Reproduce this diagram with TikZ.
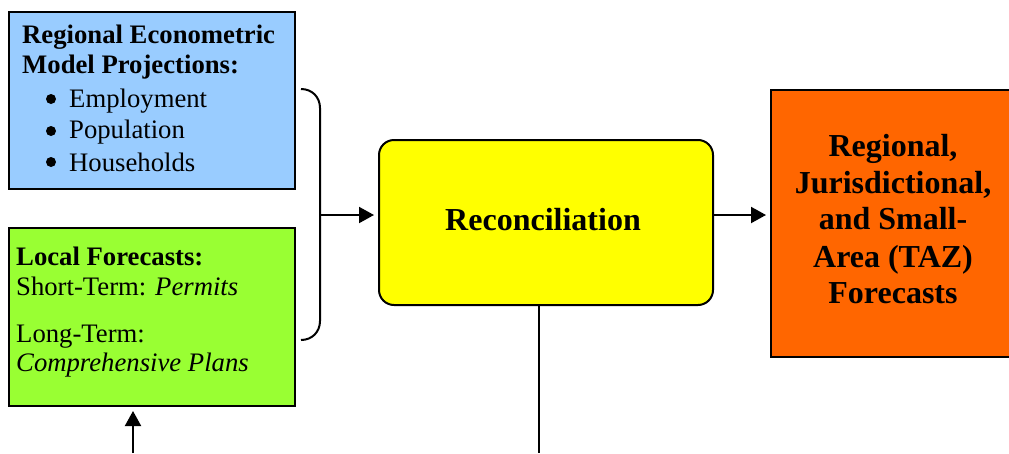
\documentclass[tikz,border=0pt]{standalone}
\usepackage{fontspec}
\setmainfont{Liberation Serif}
\usetikzlibrary{arrows.meta}
\definecolor{cblue}{HTML}{99CCFF}
\definecolor{cgreen}{HTML}{99FF33}
\definecolor{cyellow}{HTML}{FFFF00}
\definecolor{corange}{HTML}{FF6600}
\tikzset{
  box/.style={draw=black, line width=2pt, inner sep=0pt},
  small/.style={inner sep=0pt, font=\fontsize{26.7}{31}\selectfont},
  big/.style={inner sep=0pt, font=\fontsize{32}{36.8}\selectfont\bfseries},
  arr/.style={line width=2pt, -{Triangle[length=15pt,width=16pt]}, shorten >=4pt},
  ln/.style={line width=2pt},
  dot/.style={circle, fill=black, inner sep=0pt, minimum size=10pt}
}
\begin{document}
\begin{tikzpicture}[x=1pt,y=-1pt]
\useasboundingbox (0,0) rectangle (1009,453);
\clip (0,0) rectangle (1009,453);
% boxes
\node[box, fill=cblue, minimum width=286pt, minimum height=177pt] (reg) at (152,100.5) {};
\node[box, fill=cgreen, minimum width=286pt, minimum height=178pt] (loc) at (152,317) {};
\node[box, fill=cyellow, rounded corners=15pt, minimum width=334pt, minimum height=165pt] (rec) at (546,222.5) {};
\node[box, fill=corange, minimum width=260pt, minimum height=267pt] (out) at (901,223.5) {};
% blue text
\node[small, anchor=base west, font=\fontsize{26.7}{31}\selectfont\bfseries] (r1) at (22,43) {Regional Econometric};
\node[small, anchor=base west, font=\fontsize{26.7}{31}\selectfont\bfseries] (r2) at (22,73) {Model Projections:};
\node[dot] (b1) at (51,99) {};
\node[small, anchor=base west] (t1) at (69,107) {Employment};
\node[dot] (b2) at (51,131) {};
\node[small, anchor=base west] (t2) at (69,138) {Population};
\node[dot] (b3) at (51,162) {};
\node[small, anchor=base west] (t3) at (69,171) {Households};
% green text
\node[small, anchor=base west, font=\fontsize{26.7}{31}\selectfont\bfseries] (l1) at (16,265) {Local Forecasts:};
\node[small, anchor=base west] (l2) at (16,295) {Short-Term: \textit{Permits}};
\node[small, anchor=base west] (l3) at (16,342) {Long-Term:};
\node[small, anchor=base west] (l4) at (16,371) {\textit{Comprehensive Plans}};
% yellow text
\node[big, anchor=base] (rt) at (543,230) {Reconciliation};
% orange text
\node[big, anchor=base] (o1) at (893,156) {Regional,};
\node[big, anchor=base] (o2) at (893,193) {Jurisdictional,};
\node[big, anchor=base] (o3) at (893,229) {and Small-};
\node[big, anchor=base] (o4) at (893,267) {Area (TAZ)};
\node[big, anchor=base] (o5) at (893,303) {Forecasts};
% brace
\coordinate (bt) at (301,89);
\coordinate (bb) at (301,340);
\coordinate (bm) at (320,215);
\coordinate (ay) at (0,215);
\draw[ln] (bt) .. controls (312,89) and (320,97) .. (320,108) -- (320,321) .. controls (320,332) and (312,340) .. (bb);
\draw[arr] (bm) -- (bm -| rec.west);
\draw[arr] (rec.east |- ay) -- (out.west |- ay);
% bottom lines
\coordinate (lb) at (539,453);
\draw[ln] (lb |- rec.south) -- (lb);
\coordinate (ga) at (133,453);
\draw[arr] (ga) -- (ga |- loc.south);
\end{tikzpicture}
\end{document}
